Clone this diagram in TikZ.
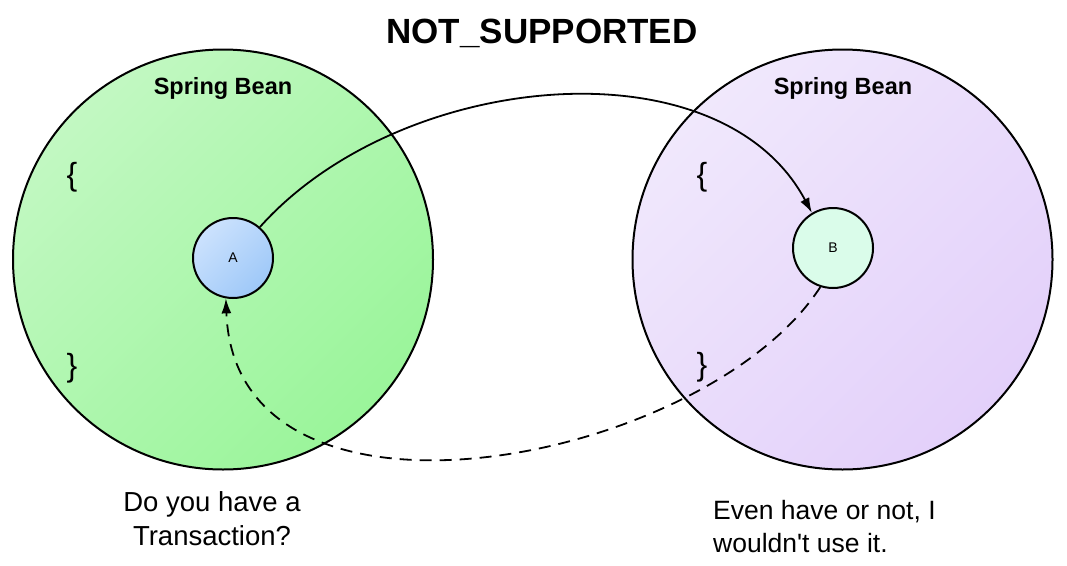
\documentclass[tikz,border=0pt]{standalone}
\usepackage{fontspec}
\setmainfont{Liberation Sans}
\usetikzlibrary{arrows.meta}
\definecolor{gA}{HTML}{C2F8C2}
\definecolor{gB}{HTML}{9AF59A}
\definecolor{pA}{HTML}{F0E8FC}
\definecolor{pB}{HTML}{E3D0FA}
\definecolor{bA}{HTML}{CCE2FD}
\definecolor{bB}{HTML}{9EC8F8}
\definecolor{mint}{HTML}{DAFCEA}
\tikzset{
  bigcircle/.style={circle, draw=black, line width=2pt, minimum size=420pt, inner sep=0pt},
  smallcircle/.style={circle, draw=black, line width=2pt, minimum size=80pt, inner sep=0pt, font=\fontsize{14}{16}\selectfont},
  beanlabel/.style={font=\bfseries\fontsize{23.5}{26}\selectfont},
  bracetxt/.style={font=\fontsize{32}{36}\selectfont, inner sep=0pt},
  caption/.style={font=\fontsize{27.5}{34}\selectfont, inner sep=0pt},
  conn/.style={line width=1.8pt, -{Latex[length=15pt,width=10pt]}}
}
\begin{document}
\begin{tikzpicture}[x=1pt,y=-1pt]
\useasboundingbox[fill=white] (0,0) rectangle (1067,565);
\node[bigcircle, left color=gA, right color=gB, shading angle=45] (L) at (223,259.5) {};
\node[bigcircle, left color=pA, right color=pB, shading angle=45] (R) at (842.5,259.5) {};
\node[font=\bfseries\fontsize{35}{38}\selectfont] (title) at (542,33) {NOT\_SUPPORTED};
\node[beanlabel] (lb) at (223,88) {Spring Bean};
\node[beanlabel] (rb) at (843,88) {Spring Bean};
\node[bracetxt] (lo) at (72,177) {\{};
\node[bracetxt] (lc) at (72,368) {\}};
\node[bracetxt] (ro) at (702,177) {\{};
\node[bracetxt] (rc) at (702,367) {\}};
\node[smallcircle, left color=bA, right color=bB, shading angle=45] (A) at (233,258) {A};
\node[smallcircle, fill=mint] (B) at (833,248) {B};
\draw[conn] (A.49) .. controls (400,70) and (720,40) .. (B.121);
\draw[conn, dash pattern=on 12pt off 8pt] (B.-108) .. controls (705,465) and (235,555) .. (A.-100);
\node[caption, align=center] (lt) at (212,519) {Do you have a\\Transaction?};
\node[caption, font=\fontsize{26.5}{33}\selectfont, align=left, anchor=west] (rt) at (713,527) {Even have or not, I\\wouldn\textquotesingle t use it.};
\end{tikzpicture}
\end{document}
